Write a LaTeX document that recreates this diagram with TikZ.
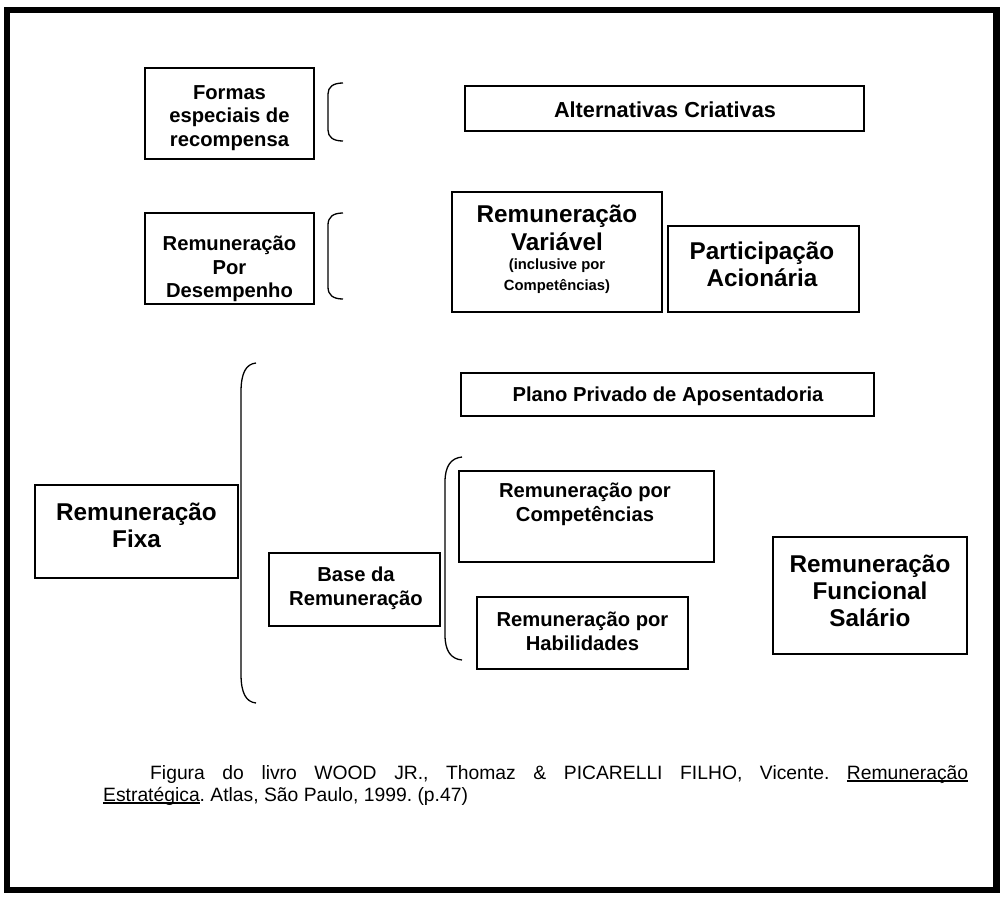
\documentclass[tikz,border=0pt]{standalone}
\usepackage{fontspec}
\setmainfont{Liberation Sans}
\frenchspacing
\newcommand\myul[1]{\setbox0=\hbox{#1}\rlap{\rule[-2.6pt]{\wd0}{1.2pt}}\box0}
\tikzset{
  frame/.style={line width=6.5pt},
  box/.style={draw=black, line width=1.3pt, rectangle, inner sep=0pt},
  bigtxt/.style={font=\bfseries\fontsize{24.3}{27}\selectfont, align=center, inner sep=0pt, anchor=north},
  midtxt/.style={font=\bfseries\fontsize{20.2}{23.5}\selectfont, align=center, inner sep=0pt, anchor=north},
  brace/.style={line width=1.3pt},
  captxt/.style={font=\fontsize{19.3}{22}\selectfont, inner sep=0pt, anchor=base west},
}
\begin{document}
\begin{tikzpicture}[x=1pt,y=-1pt]
\useasboundingbox (0,0) rectangle (1004,900);
% outer frame
\draw[frame] (7,10) rectangle (996.5,890);

% boxes
\node[box, minimum width=169pt, minimum height=91pt] (fA) at (229.5,113.5) {};
\node[box, minimum width=169pt, minimum height=91pt] (fB) at (229.5,258.5) {};
\node[box, minimum width=399pt, minimum height=45pt] (fC) at (664.5,108.5) {};
\node[box, minimum width=210pt, minimum height=120pt] (fD) at (557,252) {};
\node[box, minimum width=191pt, minimum height=86pt] (fE) at (763.5,269) {};
\node[box, minimum width=413pt, minimum height=43pt] (fF) at (667.5,394.5) {};
\node[box, minimum width=203pt, minimum height=93pt] (fG) at (136.5,531.5) {};
\node[box, minimum width=171pt, minimum height=73pt] (fH) at (354.5,589.5) {};
\node[box, minimum width=255pt, minimum height=91pt] (fI) at (586.5,516.5) {};
\node[box, minimum width=211pt, minimum height=72pt] (fJ) at (582.5,633) {};
\node[box, minimum width=194pt, minimum height=117pt] (fK) at (870,595.5) {};

% texts
\node[midtxt] (tA) at (229.5,85) {Formas\\especiais de\\recompensa};
\node[midtxt] (tB) at (229.5,236) {Remuneração\\Por\\Desempenho};
\node[font=\bfseries\fontsize{21.7}{25}\selectfont, inner sep=0pt, anchor=north] (tC) at (665,102) {Alternativas Criativas};
\node[bigtxt, font=\bfseries\fontsize{24.3}{28}\selectfont] (tD) at (557,205) {Remuneração\\Variável};
\node[font=\bfseries\fontsize{14.8}{21}\selectfont, align=center, inner sep=0pt, anchor=north] (tD2) at (557,259) {(inclusive por\\Competências)};
\node[bigtxt] (tE) at (762,242) {Participação\\Acionária};
\node[midtxt] (tF) at (668,387) {Plano Privado de Aposentadoria};
\node[bigtxt] (tG) at (136.5,503) {Remuneração\\Fixa};
\node[midtxt] (tH) at (356,567) {Base da\\Remuneração};
\node[midtxt] (tI) at (585,483) {Remuneração por\\Competências};
\node[midtxt] (tJ) at (582.5,612) {Remuneração por\\Habilidades};
\node[bigtxt] (tK) at (870,555) {Remuneração\\Funcional\\Salário};

% brackets
\draw[brace] (343,83) .. controls (333,83) and (328,87) .. (328,94) -- (328,130) .. controls (328,137) and (333,141) .. (343,141);
\draw[brace] (343,213) .. controls (333,213) and (328,217) .. (328,225) -- (328,287) .. controls (328,295) and (333,299) .. (343,299);
\draw[brace] (256,363) .. controls (246,364) and (241,373) .. (241,392) -- (241,674) .. controls (241,693) and (246,702) .. (256,703);
\draw[brace] (462,457) .. controls (451,458) and (445,466) .. (445,482) -- (445,635) .. controls (445,651) and (451,659) .. (462,660);

% caption
\node[captxt] (cap1) at (150,779) {\makebox[818pt][s]{Figura do livro WOOD JR., Thomaz \& PICARELLI FILHO, Vicente. \myul{Remuneração}}};
\node[captxt] (cap2) at (103,801) {\myul{Estratégica}. Atlas, São Paulo, 1999. (p.47)};
\end{tikzpicture}
\end{document}
